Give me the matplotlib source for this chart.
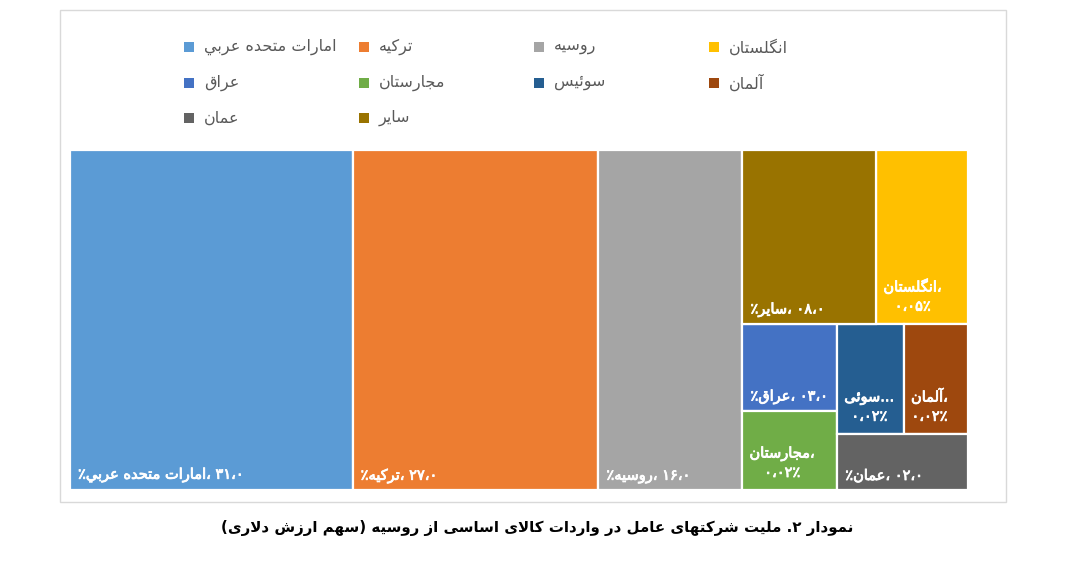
# -*- coding: utf-8 -*-
'''
treemap : nationalite des societes (part en valeur)
'''

import re
import matplotlib
matplotlib.use('Agg')
import matplotlib.pyplot as plt
import matplotlib.patheffects as pe
from matplotlib.patches import Rectangle

'''
donnees
'''
pays = ['امارات متحده عربي', 'ترکیه', 'روسیه', 'انگلستان', 'عراق',
        'مجارستان', 'سوئیس', 'آلمان', 'عمان', 'سایر']
parts = [31.4, 27.3, 16.0, 5.2, 2.7, 2.45, 2.4, 2.3, 2.4, 7.6]
couleurs = ['#5B9BD5', '#ED7D31', '#A5A5A5', '#FFC000', '#4472C4',
            '#70AD47', '#255E91', '#9E480E', '#636363', '#997300']
titre = 'نمودار ۲. ملیت شرکتهای عامل در واردات کالای اساسی از روسیه (سهم ارزش دلاری)'

# decoupage du treemap (indices dans pays) : 'h' = cote a cote, 'v' = empile
arbre = ('h', [0, 1, 2, ('v', [('h', [9, 3]),
                               ('h', [('v', [4, 5]), ('v', [('h', [6, 7]), 8])])])])

'''
mise en forme du texte persan (formes contextuelles + ordre visuel)
'''
formes = {
    'ا': (0xFE8D, 0xFE8E, None, None), 'آ': (0xFE81, 0xFE82, None, None),
    'ب': (0xFE8F, 0xFE90, 0xFE91, 0xFE92), 'پ': (0xFB56, 0xFB57, 0xFB58, 0xFB59),
    'ت': (0xFE95, 0xFE96, 0xFE97, 0xFE98), 'ج': (0xFE9D, 0xFE9E, 0xFE9F, 0xFEA0),
    'ح': (0xFEA1, 0xFEA2, 0xFEA3, 0xFEA4), 'د': (0xFEA9, 0xFEAA, None, None),
    'ر': (0xFEAD, 0xFEAE, None, None), 'ز': (0xFEAF, 0xFEB0, None, None),
    'س': (0xFEB1, 0xFEB2, 0xFEB3, 0xFEB4), 'ش': (0xFEB5, 0xFEB6, 0xFEB7, 0xFEB8),
    'ع': (0xFEC9, 0xFECA, 0xFECB, 0xFECC), 'ق': (0xFED5, 0xFED6, 0xFED7, 0xFED8),
    'ک': (0xFB8E, 0xFB8F, 0xFB90, 0xFB91), 'گ': (0xFB92, 0xFB93, 0xFB94, 0xFB95),
    'ل': (0xFEDD, 0xFEDE, 0xFEDF, 0xFEE0), 'م': (0xFEE1, 0xFEE2, 0xFEE3, 0xFEE4),
    'ن': (0xFEE5, 0xFEE6, 0xFEE7, 0xFEE8), 'ه': (0xFEE9, 0xFEEA, 0xFEEB, 0xFEEC),
    'و': (0xFEED, 0xFEEE, None, None), 'ی': (0xFBFC, 0xFBFD, 0xFBFE, 0xFBFF),
    'ي': (0xFEF1, 0xFEF2, 0xFEF3, 0xFEF4), 'ئ': (0xFE89, 0xFE8A, 0xFE8B, 0xFE8C),
    '\uFEFB': (0xFEFB, 0xFEFC, None, None), '\uFEF5': (0xFEF5, 0xFEF6, None, None),
}

def faconne(t):
    t = t.replace('لا', '\uFEFB').replace('لآ', '\uFEF5')
    res = []
    for i, c in enumerate(t):
        if c not in formes:
            res.append(c)
            continue
        iso, fin, ini, med = formes[c]
        prev = t[i-1] if i > 0 else ''
        nxt = t[i+1] if i + 1 < len(t) else ''
        avant = prev in formes and formes[prev][2] is not None
        apres = ini is not None and nxt in formes
        if avant and apres:
            res.append(chr(med))
        elif avant:
            res.append(chr(fin))
        elif apres:
            res.append(chr(ini))
        else:
            res.append(chr(iso))
    return ''.join(res)

def visuel(t):
    s = faconne(t)
    morceaux = re.findall(r'[۰-۹]+|[^۰-۹]+', s)
    morceaux = [m if m[0] in '۰۱۲۳۴۵۶۷۸۹' else m[::-1] for m in morceaux]
    s = ''.join(morceaux[::-1])
    return s.translate({ord('('): ')', ord(')'): '('})

def fa(s):
    return s.translate(str.maketrans('0123456789', '۰۱۲۳۴۵۶۷۸۹'))

'''
calcul du treemap
'''
def somme(n):
    if isinstance(n, int):
        return parts[n]
    return sum(somme(c) for c in n[1])

def decoupe(n, x, y, w, h, out):
    if isinstance(n, int):
        out[n] = (x, y, w, h)
        return
    total = somme(n)
    if n[0] == 'h':
        for c in n[1]:
            cw = w * somme(c) / total
            decoupe(c, x, y, cw, h, out)
            x += cw
    else:
        haut = y + h
        for c in n[1]:
            ch = h * somme(c) / total
            haut -= ch
            decoupe(c, x, haut, w, ch, out)

rects = {}
decoupe(arbre, 0.0, 0.0, 1.0, 1.0, rects)

'''
figure
'''
W, H = 1073, 563
fig = plt.figure(figsize=(W / 100, H / 100), dpi=100)
fig.patch.set_facecolor('white')

# calque en pixels pour cadre, legende et titre
fond = fig.add_axes([0, 0, 1, 1])
fond.set_xlim(0, W)
fond.set_ylim(H, 0)
fond.axis('off')
fond.add_patch(Rectangle((60, 10), 946, 492, fill=False, edgecolor='#d9d9d9', lw=1))

# legende en grille 4 colonnes
for i, nom in enumerate(pays):
    lx = 184 + (i % 4) * 175
    ly = 47 + (i // 4) * 35.5
    fond.add_patch(Rectangle((lx, ly - 5), 10, 10, facecolor=couleurs[i], edgecolor='none'))
    fond.text(lx + 20, ly, visuel(nom), fontsize=11.5, color='#595959', ha='left', va='center')

fond.text(W / 2 + 1, 528, visuel(titre), fontsize=10.8, fontweight='bold', color='black',
          ha='center', va='center')

ax = fig.add_axes([70 / W, 1 - 490 / H, 898 / W, 340 / H])
ax.set_xlim(0, 1)
ax.set_ylim(0, 1)
ax.axis('off')

renderer = fig.canvas.get_renderer()
pad = 7
taille = 10.5
gras = [pe.withStroke(linewidth=0.6, foreground='white')]
for i, nom in enumerate(pays):
    x, y, w, h = rects[i]
    ax.add_patch(Rectangle((x, y), w, h, facecolor=couleurs[i], edgecolor='white', lw=1.6))
    largeur = (ax.transData.transform((x + w, y)) - ax.transData.transform((x, y)))[0]
    dispo = largeur - 2 * pad
    pct = '%02d' % int(round(parts[i]))
    une_ligne = '٪' + visuel(nom) + '، ' + fa(pct) + '،۰'
    t = ax.annotate(une_ligne, (x, y), xytext=(pad + 1, pad), textcoords='offset pixels',
                    fontsize=taille, color='white', ha='left', va='bottom', path_effects=gras)
    if t.get_window_extent(renderer).width <= dispo:
        continue
    t.remove()
    # ligne du nom, tronquee si trop large
    ligne1 = visuel(nom) + '،'
    essai = ax.text(0, 0, ligne1, fontsize=taille)
    marge = 4
    k = len(nom)
    while essai.get_window_extent(renderer).width > dispo - marge and k > 1:
        k -= 1
        marge = 0
        ligne1 = visuel(nom[:k]) + '...'
        essai.set_text(ligne1)
    essai.remove()
    ligne2 = '۰،' + fa(pct) + '٪'
    ax.annotate(ligne1 + '\n' + ligne2, (x, y), xytext=(pad, pad + 3), textcoords='offset pixels',
                fontsize=taille, color='white', ha='left', va='bottom',
                multialignment='center', linespacing=1.35, path_effects=gras)

fig.savefig('out.png', dpi=100, facecolor='white')
